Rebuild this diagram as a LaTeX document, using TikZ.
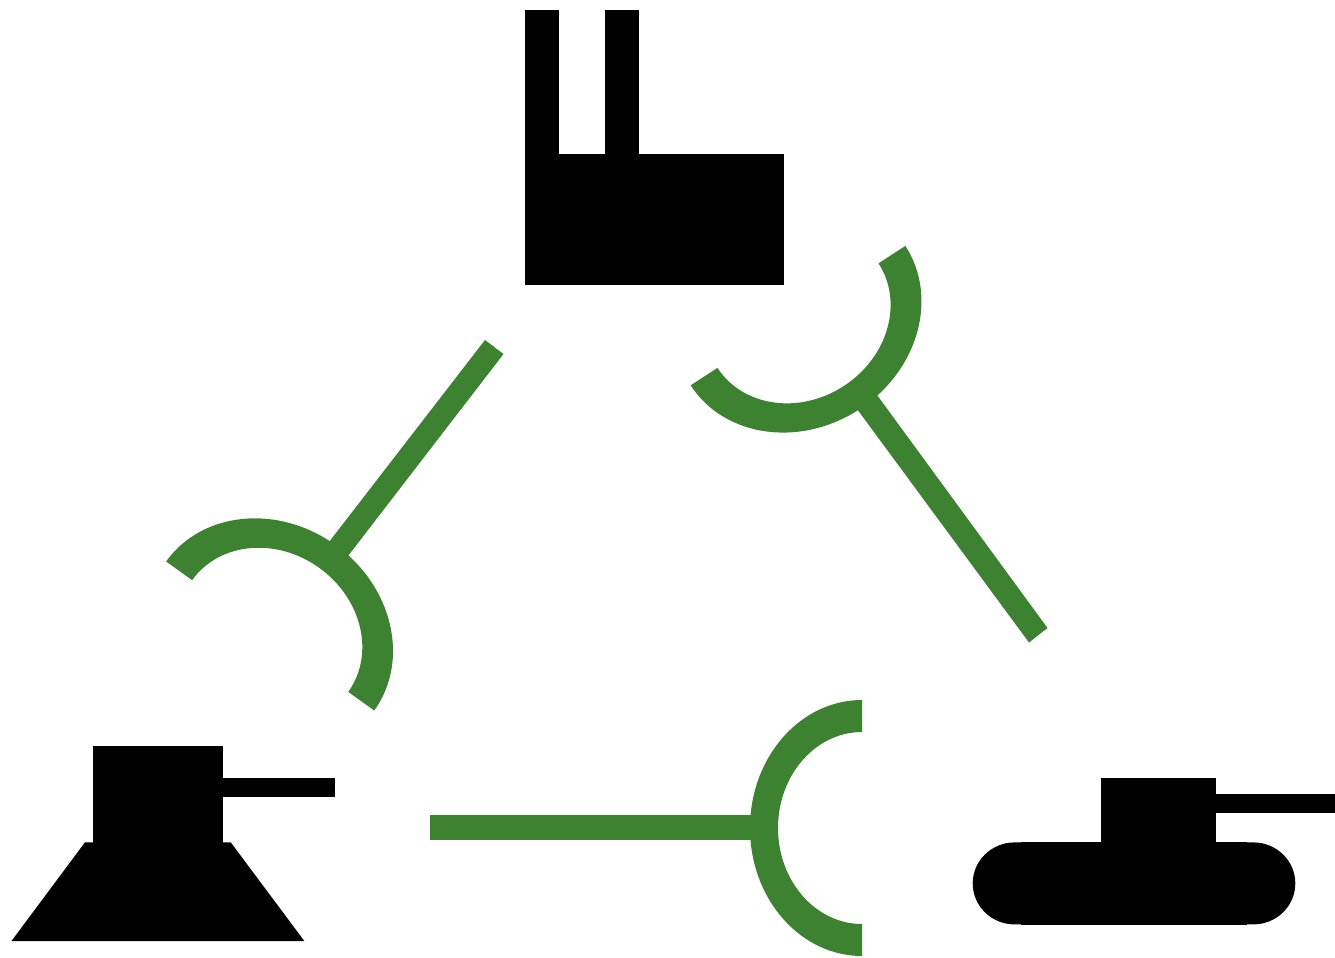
\documentclass[tikz,border=0pt]{standalone}
\definecolor{linkgreen}{RGB}{61,130,49}
\tikzset{
  solid part/.style={fill=black},
  link part/.style={fill=linkgreen},
}
\begin{document}
\begin{tikzpicture}[x=0.02cm, y=-0.02cm]
  \useasboundingbox (0,0) rectangle (1335,957);
  % factory
  \fill[solid part] (524.5,10) rectangle (559.3,170);
  \fill[solid part] (605,10) rectangle (639.3,160);
  \fill[solid part] (525,154) rectangle (783.5,285);
  % left tank
  \fill[solid part] (92.5,746.3) rectangle (223,850);
  \fill[solid part] (220,778.3) rectangle (335.3,797);
  \fill[solid part] (85,842.3) -- (230.7,842.3) -- (304.3,941) -- (11.5,941) -- cycle;
  % right tank
  \fill[solid part] (1101,778.3) rectangle (1215.7,850);
  \fill[solid part] (1210,794.3) rectangle (1335,813);
  \fill[solid part] (1014.7,842.4) -- (1253.3,842.4) arc(-90:90:42 and 41) -- (1014.7,924.4) arc(90:270:42 and 41) -- cycle;
  \fill[solid part] (1021,842) rectangle (1247,925);
  % arcs
  \foreach \cx/\cy/\rot in {862/828/0, 798/315.6/123, 270.2/636/-125.6}{
    \begin{scope}[shift={(\cx,\cy)}, rotate=\rot]
      \fill[link part] (0,-128) arc(270:90:112 and 128) -- (0,96) arc(90:270:84 and 96) -- cycle;
    \end{scope}
  }
  % stems
  \fill[link part] (430,815) -- (754,815) -- (754,840) -- (430,840) -- cycle;
  \fill[link part] (877,395) -- (1047.5,628) -- (1029,642.5) -- (857,409) -- cycle;
  \fill[link part] (485,340) -- (503.5,354) -- (348,556) -- (329,542) -- cycle;
\end{tikzpicture}
\end{document}
